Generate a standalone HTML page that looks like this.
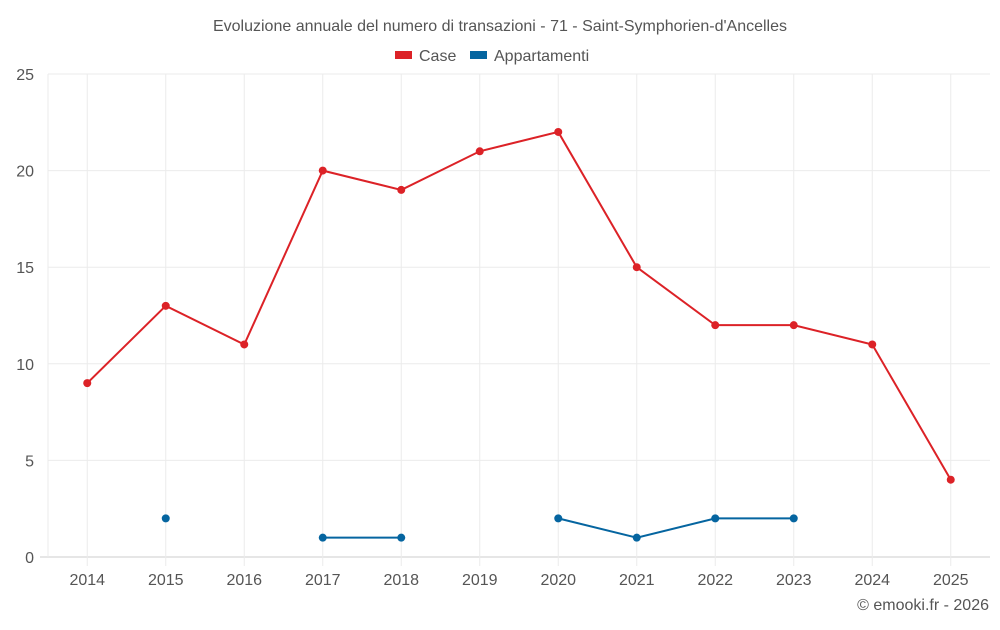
<!DOCTYPE html>
<html><head><meta charset="utf-8"><style>
body{margin:0;background:#fff;font-family:"Liberation Sans",sans-serif;}
svg text{font-family:"Liberation Sans",sans-serif;}
</style></head><body>
<svg id="chart" width="1000" height="625" viewBox="0 0 1000 625" xmlns="http://www.w3.org/2000/svg">
<text x="500" y="31" text-anchor="middle" font-size="16" fill="#555">Evoluzione annuale del numero di transazioni - 71 - Saint-Symphorien-d'Ancelles</text>
<g><rect x="395" y="51" width="17" height="8" fill="#dc2227"/><text x="419" y="61" font-size="16" fill="#555">Case</text></g>
<g><rect x="470" y="51" width="17" height="8" fill="#0565a0"/><text x="494" y="61" font-size="16" fill="#555">Appartamenti</text></g>
<g id="grid"></g><g id="axes"></g><g id="series"></g>
<text x="989" y="610" text-anchor="end" font-size="16" fill="#555">© emooki.fr - 2026</text>
</svg>
<script>
const categories=["2014","2015","2016","2017","2018","2019","2020","2021","2022","2023","2024","2025"];
const caseValues=[9,13,11,20,19,21,22,15,12,12,11,4];
const appValues=[null,2,null,1,1,null,2,1,2,2,null,null];
const yTicks=[0,5,10,15,20,25];
const NS="http://www.w3.org/2000/svg";
const L=48,R=990,T=74,B=557,yMax=25;
const bw=(R-L)/categories.length;
const x=i=>L+bw*(i+0.5);
const y=v=>B-(v/yMax)*(B-T);
function mk(tag,attrs,parent){const e=document.createElementNS(NS,tag);for(const k in attrs)e.setAttribute(k,attrs[k]);parent.appendChild(e);return e;}
const grid=document.getElementById('grid'),axes=document.getElementById('axes'),ser=document.getElementById('series');
yTicks.forEach(t=>{
  const l=mk('line',{x1:t===0?40:L,x2:R,y1:y(t),y2:y(t),stroke:t===0?'#ccc':'#ebebeb','stroke-width':1},grid);
  
  
  const tx=mk('text',{x:34,y:y(t)+6,'text-anchor':'end','font-size':16,fill:'#555'},axes);
  tx.textContent=t;
  
  
});
const lg=mk('line',{x1:L,x2:L,y1:T,y2:B,stroke:'#ebebeb'},grid);


categories.forEach((c,i)=>{
  const l=mk('line',{x1:x(i),x2:x(i),y1:T,y2:B+9,stroke:'#ebebeb','stroke-width':1},grid);
  
  
  const tx=mk('text',{x:x(i),y:585,'text-anchor':'middle','font-size':16,fill:'#555'},axes);
  tx.textContent=c;
  
  
});
function draw(vals,color,name){
  let seg=[];
  const flush=()=>{if(seg.length>1){const p=mk('polyline',{points:seg.join(' '),fill:'none',stroke:color,'stroke-width':2},ser);
    
    }seg=[];};
  vals.forEach((v,i)=>{if(v===null){flush();return;}seg.push(x(i)+','+y(v));});
  flush();
  vals.forEach((v,i)=>{if(v===null)return;
    const c=mk('circle',{cx:x(i),cy:y(v),r:4,fill:color},ser);
    
    });
}
draw(caseValues,'#dc2227','case');
draw(appValues,'#0565a0','appartamenti');
</script>
</body></html>
